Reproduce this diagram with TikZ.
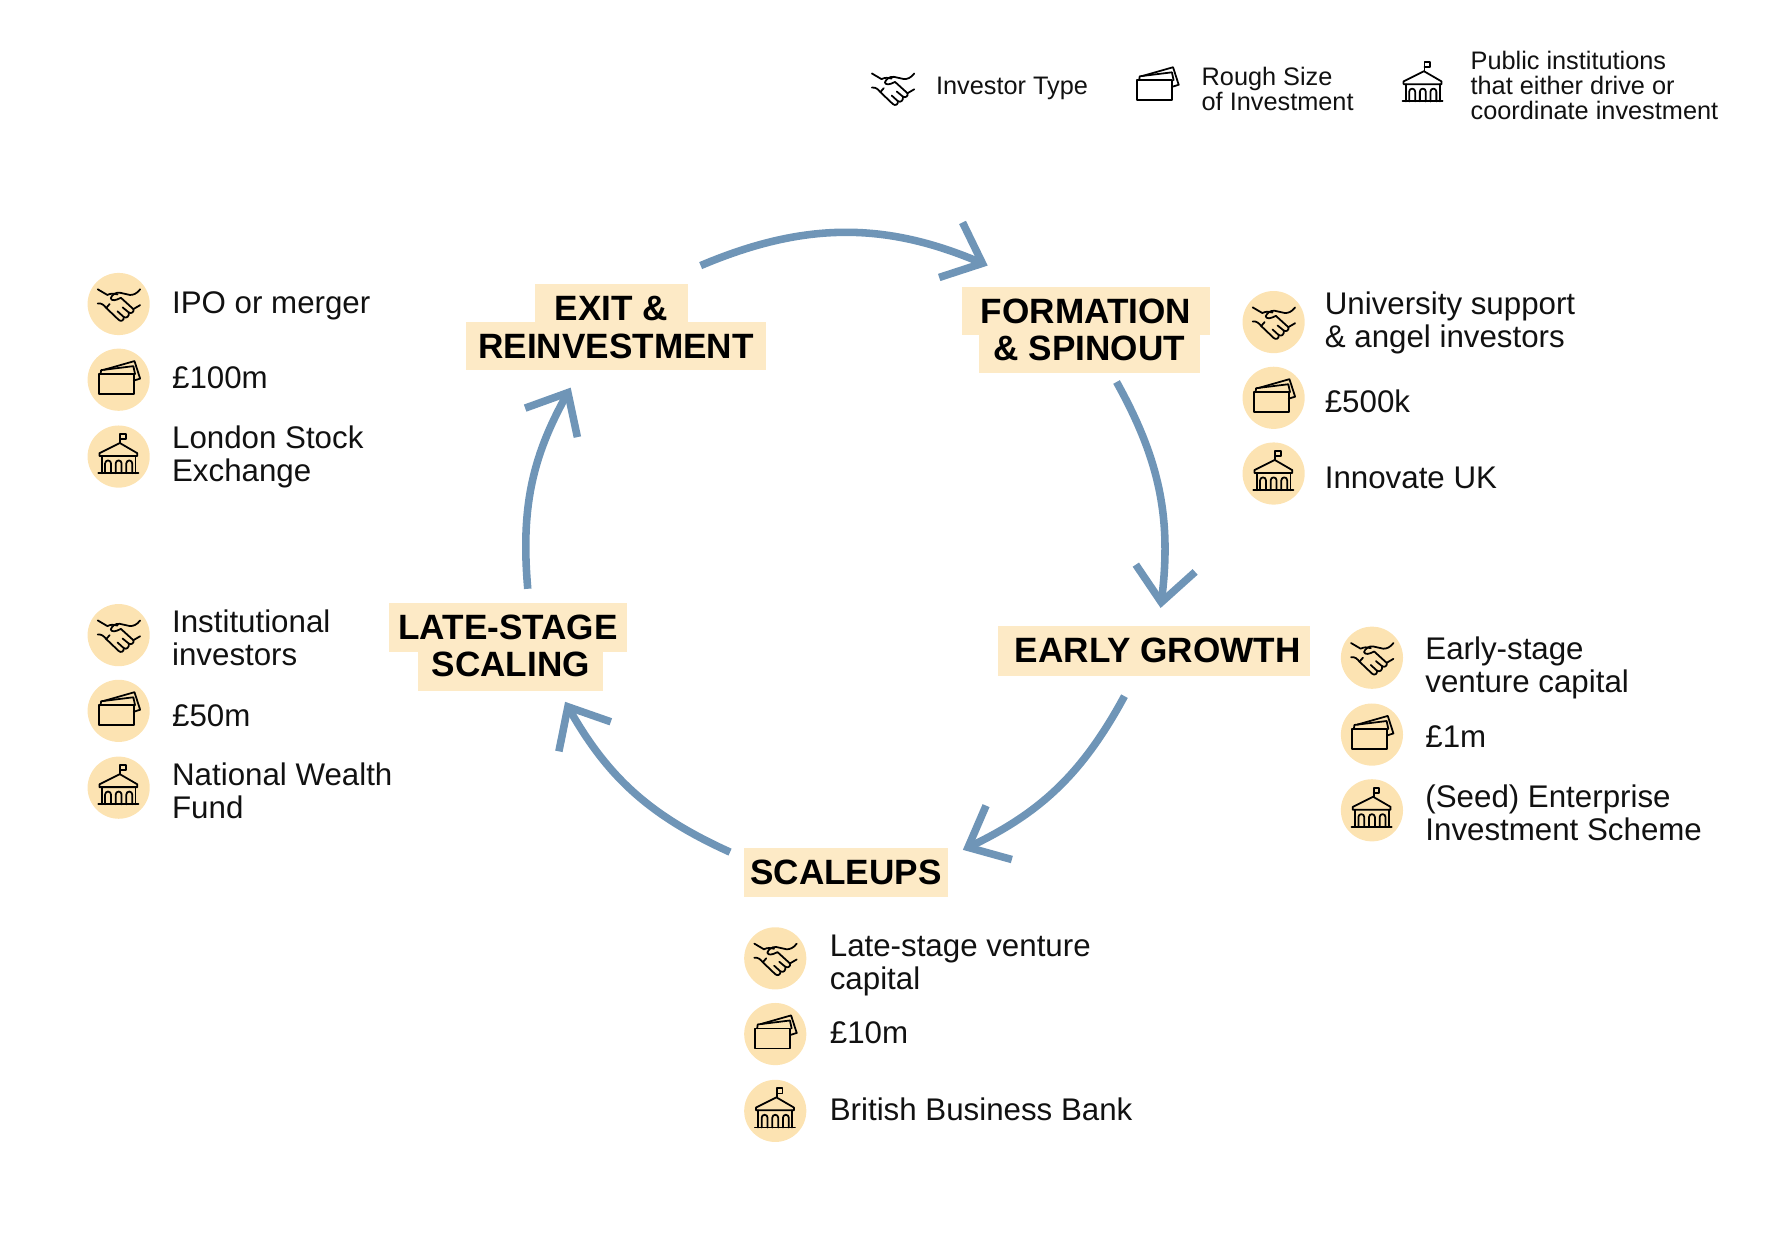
\documentclass[tikz,border=0pt]{standalone}
\usepackage{fontspec}
\setmainfont{Liberation Sans}
\usetikzlibrary{calc, arrows.meta}
\definecolor{flowblue}{HTML}{6F95B7}
\definecolor{badgecream}{HTML}{FCE3B2}
\definecolor{titlecream}{HTML}{FDEAC6}
\definecolor{inkblack}{HTML}{111111}
\newcommand{\pxu}{0.0226cm}
\tikzstyle{badge}=[circle, minimum size=55*\pxu, inner sep=0pt, fill=badgecream]
\tikzstyle{titlebox}=[rectangle, inner sep=0pt, fill=titlecream, text=black, font=\fontsize{20}{21}\selectfont\bfseries]
\tikzstyle{annot}=[anchor=west, inner sep=0pt, align=left, text=inkblack, font=\fontsize{17.8}{18.8}\selectfont]
\tikzstyle{legend}=[anchor=west, inner sep=0pt, align=left, text=inkblack, font=\fontsize{14.4}{14.2}\selectfont]
\tikzstyle{flow}=[line width=4.3pt, draw=flowblue, -{Straight Barb[length=19.5pt, width=34pt]}]
\tikzstyle{iconline}=[line width=1pt, draw=black, line join=round, line cap=round]
\tikzset{
  handshake/.pic={
    \draw [iconline] (-18.5,-13) -- (-10,-8) .. controls (-7,-9.5) and (-4,-9.5) .. (-1,-8.5);
    \draw [iconline] (19,-13) .. controls (16,-9) and (13,-8) .. (10,-8) -- (1,-10) .. controls (-3,-10.5) and (-6,-8) .. (-7,-5) .. controls (-6,-2.5) and (-3,-3) .. (2,-5.5) -- (13,4.5) .. controls (14,7) and (11,9) .. (9,7.5);
    \draw [iconline] (-18.5,-0.5) .. controls (-15,-1) and (-13,1) .. (-11,3.5) -- (0,14) .. controls (2,16) and (5,14.5) .. (4.5,11.5) -- (-1,6.5);
    \draw [iconline] (4.5,11.5) .. controls (7,13) and (9.5,11) .. (9,7.5) -- (3.5,3);
    \draw [iconline] (19,1) -- (13,4.5);
    \draw [iconline] (-11,3.5) -- (-8,0);
  },
  cards/.pic={
    \draw [iconline] (-17.7,-5) rectangle (13.3,12.7);
    \draw [iconline] (-16,-5) -- (-15.5,-8.5) -- (13,-12) -- (14.5,-5);
    \draw [iconline] (-13,-8.8) -- (14,-16.5) -- (19,-1) -- (13.3,0.8);
  },
  bank/.pic={
    \draw [iconline] (1.5,-12) -- (1.5,-20) -- (6.5,-20) -- (6.5,-15.5) -- (1.5,-15.5);
    \draw [iconline] (-17,-3) -- (1,-12) -- (16.5,-3) -- (16.5,-0.5) -- (-17,-0.5) -- cycle;
    \draw [iconline] (-18,14.7) -- (17.5,14.7);
    \draw [iconline] (-15,-0.5) -- (-15,14.7);
    \draw [iconline] (15,-0.5) -- (15,14.7);
    \draw [iconline] (-12,14.7) -- (-12,6) arc (180:360:2.6) -- (-6.8,14.7);
    \draw [iconline] (-2.6,14.7) -- (-2.6,6) arc (180:360:2.6) -- (2.6,14.7);
    \draw [iconline] (6.8,14.7) -- (6.8,6) arc (180:360:2.6) -- (12,14.7);
  }
}

\begin{document}
\begin{tikzpicture}[x=\pxu, y=-\pxu]

\useasboundingbox (0,0) rectangle (1568,1097);

\node [titlebox, minimum width=136*\pxu, text height=33*\pxu, text depth=1*\pxu] (exit1) at (541, 268) {EXIT \&};
\node [titlebox, minimum width=266*\pxu, text height=32*\pxu, text depth=10*\pxu] (exit2) at (545, 306) {REINVESTMENT};
\node [titlebox, minimum width=219*\pxu, text height=32*\pxu, text depth=10*\pxu] (form1) at (961, 275) {FORMATION};
\node [titlebox, minimum width=196*\pxu, text height=23*\pxu, text depth=11*\pxu] (form2) at (964, 313) {\& SPINOUT};
\node [titlebox, minimum width=276*\pxu, text height=32*\pxu, text depth=12*\pxu] (early) at (1021, 576) {\kern 4.5pt EARLY GROWTH};
\node [titlebox, minimum width=181*\pxu, text height=32.5*\pxu, text depth=11.5*\pxu] (scale) at (748.5, 772) {SCALEUPS};
\node [titlebox, minimum width=211*\pxu, text height=32*\pxu, text depth=11*\pxu] (late1) at (449.5, 555.5) {LATE-STAGE};
\node [titlebox, minimum width=164*\pxu, text height=22*\pxu, text depth=12*\pxu] (late2) at (452, 594) {SCALING};

\coordinate (exitout) at ($(exit1) + (79, -33)$);
\coordinate (formin) at ($(form1) + (-87, -40)$);
\coordinate (formout) at ($(form2) + (24, 25)$);
\coordinate (earlyin) at ($(early) + (6, -38)$);
\coordinate (earlyout) at ($(early) + (-26, 40)$);
\coordinate (scalein) at ($(scale) + (103.5, -20)$);
\coordinate (scaleout) at ($(scale) + (-102.5, -18)$);
\coordinate (latein) at ($(late2) + (48, 27)$);
\coordinate (lateout) at ($(late1) + (17.5, -34.5)$);
\coordinate (exitin) at ($(exit2) + (-40, 37)$);

\draw [flow] (exitout) to [bend left=23] (formin);
\draw [flow] (formout) to [bend left=18] (earlyin);
\draw [flow] (earlyout) to [bend left=18] (scalein);
\draw [flow] (scaleout) to [bend left=18] (latein);
\draw [flow] (lateout) to [bend left=17] (exitin);

\node [badge] (exitinv) at (105, 269) {};
\node [badge] (exitsize) at (105, 336) {};
\node [badge] (exitpub) at (105, 404) {};
\node [badge] (forminv) at (1127, 285) {};
\node [badge] (formsize) at (1127, 352) {};
\node [badge] (formpub) at (1127, 419) {};
\node [badge] (earlyinv) at (1214, 582) {};
\node [badge] (earlysize) at (1214, 650) {};
\node [badge] (earlypub) at (1214, 717) {};
\node [badge] (scaleinv) at (686, 848) {};
\node [badge] (scalesize) at (686, 915) {};
\node [badge] (scalepub) at (686, 983) {};
\node [badge] (lateinv) at (105, 562) {};
\node [badge] (latesize) at (105, 629) {};
\node [badge] (latepub) at (105, 697) {};

\pic at (exitinv) {handshake};
\pic at (exitsize) {cards};
\pic at (exitpub) {bank};
\pic at (forminv) {handshake};
\pic at (formsize) {cards};
\pic at (formpub) {bank};
\pic at (earlyinv) {handshake};
\pic at (earlysize) {cards};
\pic at (earlypub) {bank};
\pic at (scaleinv) {handshake};
\pic at (scalesize) {cards};
\pic at (scalepub) {bank};
\pic at (lateinv) {handshake};
\pic at (latesize) {cards};
\pic at (latepub) {bank};

\node [annot] (exitinvtxt) at (152, 271) {IPO or merger};
\node [annot] (exitsizetxt) at (152, 334) {£100m};
\node [annot] (exitpubtxt) at (152, 404.5) {London Stock\\Exchange};
\node [annot] (forminvtxt) at (1172, 286) {University support\\\& angel investors};
\node [annot] (formsizetxt) at (1172, 355) {£500k};
\node [annot] (formpubtxt) at (1172, 423) {Innovate UK};
\node [annot] (earlyinvtxt) at (1261, 591) {Early-stage\\venture capital};
\node [annot] (earlysizetxt) at (1261, 652) {£1m};
\node [annot] (earlypubtxt) at (1261, 719) {(Seed) Enterprise\\Investment Scheme};
\node [annot] (scaleinvtxt) at (734, 854) {Late-stage venture\\capital};
\node [annot] (scalesizetxt) at (734, 914) {£10m};
\node [annot] (scalepubtxt) at (734, 982) {British Business Bank};
\node [annot] (lateinvtxt) at (152, 564) {Institutional\\investors};
\node [annot] (latesizetxt) at (152, 633) {£50m};
\node [annot] (latepubtxt) at (152, 700) {National Wealth\\Fund};

\coordinate (keyinv) at (790, 78);
\coordinate (keysize) at (1024, 76);
\coordinate (keypub) at (1259, 75);
\pic at (keyinv) {handshake};
\pic at (keysize) {cards};
\pic at (keypub) {bank};

\node [legend] (keyinvtxt) at (828, 78) {Investor Type};
\node [legend] (keysizetxt) at (1063, 79) {Rough Size\\of Investment};
\node [legend] (keypubtxt) at (1301, 76) {Public institutions\\that either drive or\\coordinate investment};

\end{tikzpicture}
\end{document}
